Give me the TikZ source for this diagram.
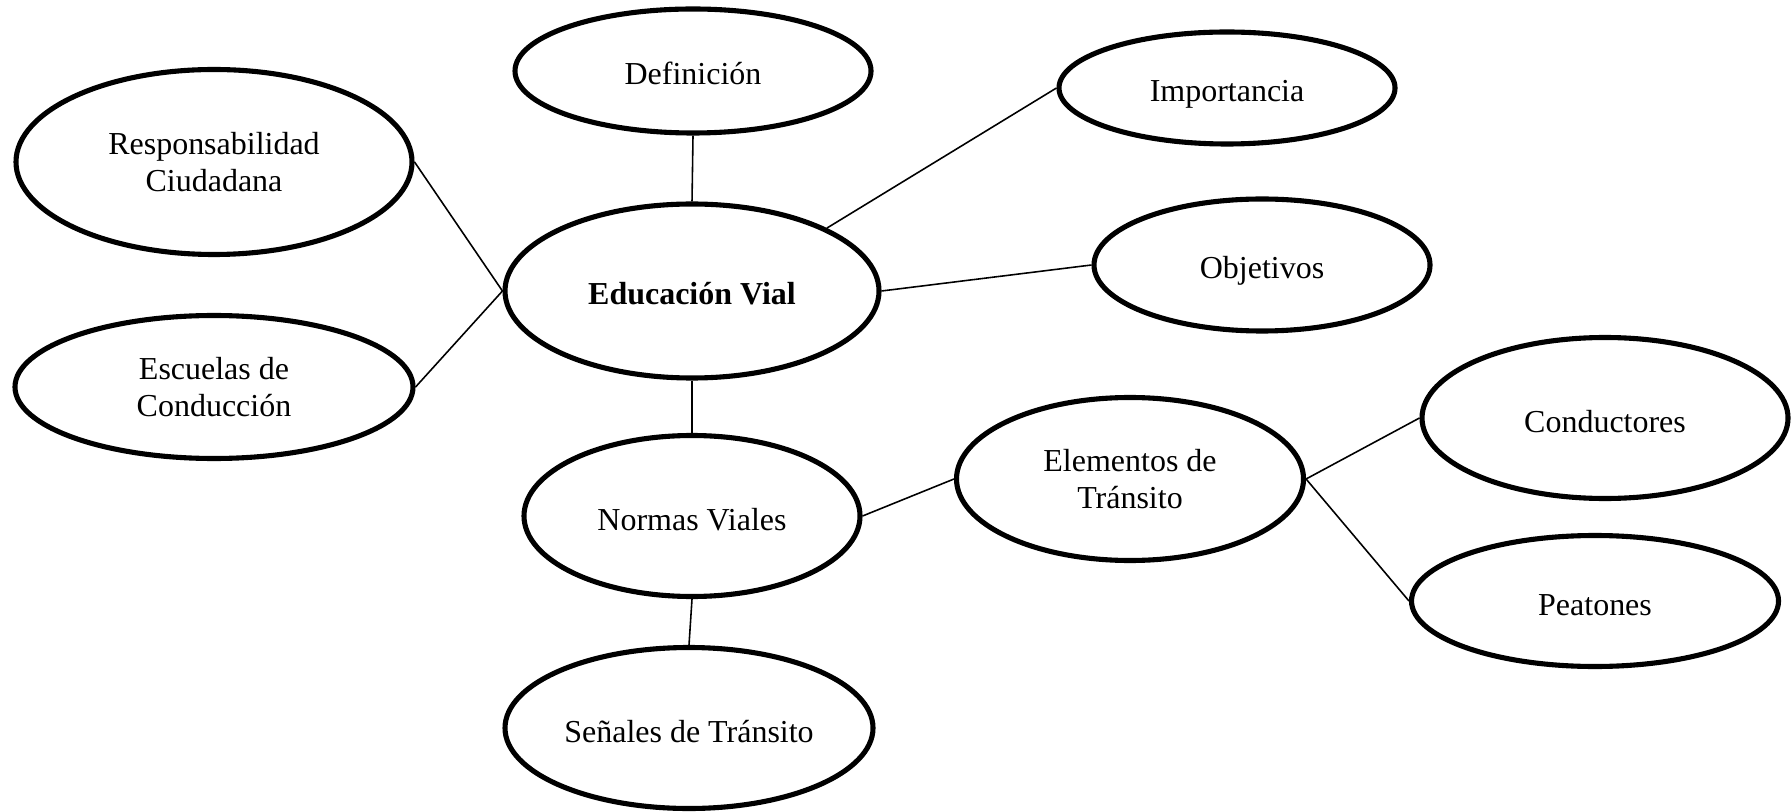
\documentclass[tikz,border=0pt]{standalone}
\usepackage{fontspec}
\setmainfont{Liberation Serif}
\usetikzlibrary{shapes.geometric}

\tikzset{
  bubble/.style={ellipse,draw,line width=1.45pt,inner sep=0pt,align=center,
    font=\fontsize{9.1}{10.5}\selectfont},
  single/.style={bubble,text height=0.28cm,text depth=0pt},
  link/.style={line width=0.45pt}
}

\begin{document}
\begin{tikzpicture}

\useasboundingbox (0,0) rectangle (17.91,8.11);

\node[single,minimum width=3.56cm,minimum height=1.24cm] (def) at (6.93,7.40){Definición};
\node[single,minimum width=3.36cm,minimum height=1.12cm] (imp) at (12.27,7.23){Importancia};
\node[bubble,minimum width=3.96cm,minimum height=1.85cm] (resp) at (2.14,6.49){Responsabilidad\\ Ciudadana};
\node[single,minimum width=3.74cm,minimum height=1.74cm,font=\fontsize{9.1}{10.5}\selectfont\bfseries] (edu) at (6.92,5.20){Educación Vial};
\node[single,minimum width=3.36cm,minimum height=1.32cm] (obj) at (12.62,5.46){Objetivos};
\node[bubble,minimum width=3.98cm,minimum height=1.43cm] (esc) at (2.14,4.24){Escuelas de\\ Conducción};
\node[single,minimum width=3.36cm,minimum height=1.61cm] (nor) at (6.92,2.95){Normas Viales};
\node[bubble,minimum width=3.47cm,minimum height=1.63cm] (ele) at (11.30,3.32){Elementos de\\ Tránsito};
\node[single,minimum width=3.66cm,minimum height=1.61cm] (con) at (16.05,3.93){Conductores};
\node[single,minimum width=3.67cm,minimum height=1.31cm] (pea) at (15.95,2.10){Peatones};
\node[single,minimum width=3.68cm,minimum height=1.61cm] (sen) at (6.89,0.83){Señales de Tránsito};

\draw[link] (def.south) -- (edu.north);
\draw[link] (imp.west) -- (edu.25);
\draw[link] (resp.east) -- (edu.west);
\draw[link] (esc.east) -- (edu.west);
\draw[link] (obj.west) -- (edu.east);
\draw[link] (edu.south) -- (nor.north);
\draw[link] (nor.east) -- (ele.west);
\draw[link] (nor.south) -- (sen.north);
\draw[link] (ele.east) -- (con.west);
\draw[link] (ele.east) -- (pea.west);

\end{tikzpicture}
\end{document}
